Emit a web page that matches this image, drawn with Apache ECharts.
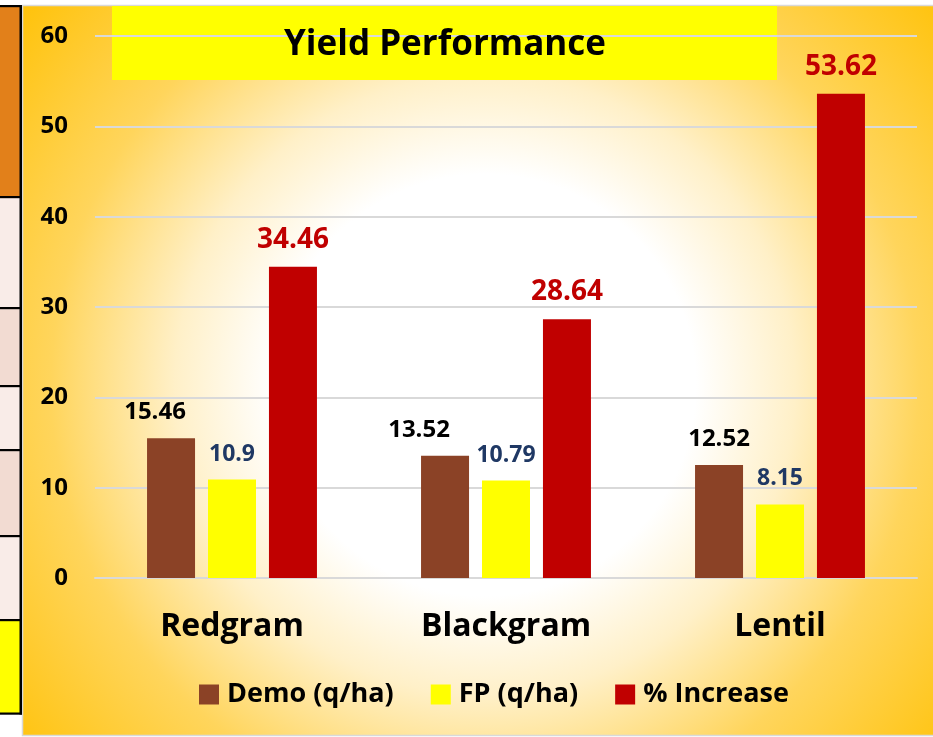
<!DOCTYPE html>
<html>
<head>
<meta charset="utf-8">
<script src="https://cdn.jsdelivr.net/npm/echarts@6/dist/echarts.min.js"></script>
<style>
html,body{margin:0;padding:0;background:#fff;}
#chart{width:933px;height:737px;}
</style>
</head>
<body>
<div id="chart"></div>
<script>
const categories = ['Redgram', 'Blackgram', 'Lentil'];
const demoValues = [15.46, 13.52, 12.52];
const fpValues = [10.9, 10.79, 8.15];
const increaseValues = [34.46, 28.64, 53.62];
const seriesNames = ['Demo (q/ha)', 'FP (q/ha)', '% Increase'];
const chartTitle = 'Yield Performance';

const FONT = "'Open Sans', 'Noto Sans', sans-serif";
const demoLabelShift = [-16, -26, 0];

const chart = echarts.init(document.getElementById('chart'), null, {renderer: 'canvas'});

const bg = new echarts.graphic.RadialGradient(485, 385, 620, [
  {offset: 0, color: '#ffffff'},
  {offset: 0.34, color: '#ffffff'},
  {offset: 0.5, color: '#fff0c8'},
  {offset: 0.7, color: '#ffd55c'},
  {offset: 1, color: '#ffc000'}
], true);

function cell(y1, y2, color) {
  return {type: 'rect', z: -90, shape: {x: 0, y: y1, width: 20, height: y2 - y1}, style: {fill: color}};
}
function hline(y) {
  return {type: 'rect', z: -80, shape: {x: 0, y: y - 1, width: 22, height: 2.2}, style: {fill: '#000'}};
}

const labelBase = {show: true, position: 'top', fontFamily: FONT, fontWeight: 'bold'};

const option = {
  animation: false,
  textStyle: {fontFamily: FONT},
  title: {
    text: chartTitle,
    left: 445,
    top: 25,
    textAlign: 'center',
    padding: 0,
    textStyle: {fontFamily: FONT, fontWeight: 'bold', fontSize: 35, color: '#000', lineHeight: 40}
  },
  graphic: [
    {type: 'rect', z: -100, shape: {x: 22.5, y: 5.5, width: 912, height: 730}, style: {fill: bg, stroke: '#d9d9d9', lineWidth: 1.5}},
    cell(6, 197, '#e2801a'),
    cell(197, 308, '#f9ece8'),
    cell(308, 386, '#f2dbd2'),
    cell(386, 450, '#f9ece8'),
    cell(450, 536, '#f2dbd2'),
    cell(536, 620, '#f9ece8'),
    cell(620, 713, '#ffff00'),
    {type: 'rect', z: -80, shape: {x: 19.5, y: 5, width: 2.5, height: 709.5}, style: {fill: '#000'}},
    hline(6), hline(197), hline(308), hline(386), hline(450), hline(536), hline(620), hline(713.5),
    {type: 'rect', z: -50, shape: {x: 112, y: 6, width: 665, height: 74}, style: {fill: '#ffff00'}}
  ],
  legend: {
    data: seriesNames,
    left: 199,
    top: 681,
    padding: 0,
    icon: 'rect',
    itemWidth: 20,
    itemHeight: 20,
    itemGap: 37,
    textStyle: {fontFamily: FONT, fontWeight: 'bold', fontSize: 27, color: '#000', padding: [0, 0, 0, 3]}
  },
  grid: {left: 95, right: 16, top: 36, bottom: 159, containLabel: false},
  xAxis: {
    type: 'category',
    data: categories,
    axisLine: {show: true, lineStyle: {color: '#d9d9d9', width: 2}},
    axisTick: {show: false},
    axisLabel: {fontFamily: FONT, fontWeight: 'bold', fontSize: 32, color: '#000', margin: 33}
  },
  yAxis: {
    type: 'value',
    min: 0,
    max: 60,
    interval: 10,
    axisLine: {show: false},
    axisTick: {show: false},
    splitLine: {lineStyle: {color: '#d9d9d9', width: 2}},
    axisLabel: {fontFamily: FONT, fontWeight: 'bold', fontSize: 24, color: '#000', margin: 27}
  },
  series: [
    {
      name: seriesNames[0],
      type: 'bar',
      barWidth: 48,
      barGap: '27%',
      itemStyle: {color: '#8b4226'},
      data: demoValues.map((v, i) => ({value: v, label: {offset: [demoLabelShift[i], 0]}})),
      label: Object.assign({}, labelBase, {fontSize: 24, color: '#000', distance: 14})
    },
    {
      name: seriesNames[1],
      type: 'bar',
      barWidth: 48,
      barGap: '27%',
      itemStyle: {color: '#ffff00'},
      data: fpValues,
      label: Object.assign({}, labelBase, {fontSize: 23, color: '#1f3864', distance: 14})
    },
    {
      name: seriesNames[2],
      type: 'bar',
      barWidth: 48,
      barGap: '27%',
      itemStyle: {color: '#c00000'},
      data: increaseValues,
      label: Object.assign({}, labelBase, {fontSize: 28, color: '#c00000', distance: 13})
    }
  ]
};

chart.setOption(option);
</script>
</body>
</html>
